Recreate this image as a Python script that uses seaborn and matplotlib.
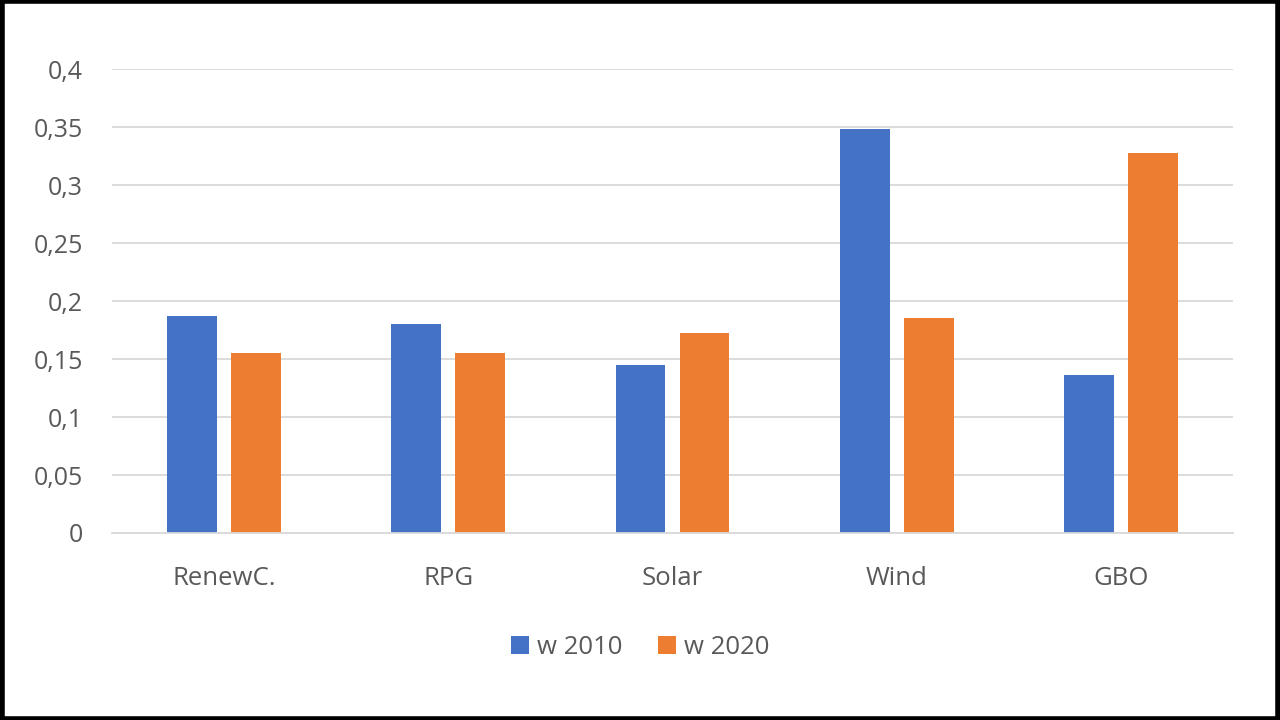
import matplotlib
matplotlib.use("Agg")
import matplotlib.pyplot as plt
import seaborn as sns
import pandas as pd
from matplotlib.patches import Rectangle

categories = ["RenewC.", "RPG", "Solar", "Wind", "GBO"]
series_names = ["w 2010", "w 2020"]
values_2010 = [0.187, 0.180, 0.145, 0.348, 0.136]
values_2020 = [0.155, 0.155, 0.172, 0.185, 0.328]
y_ticks = [0, 0.05, 0.1, 0.15, 0.2, 0.25, 0.3, 0.35, 0.4]
y_tick_labels = ["0", "0,05", "0,1", "0,15", "0,2", "0,25", "0,3", "0,35", "0,4"]
colors = ["#4472C4", "#ED7D31"]

df = pd.DataFrame({
    "category": categories * 2,
    "series": [series_names[0]] * len(categories) + [series_names[1]] * len(categories),
    "value": values_2010 + values_2020,
})

sns.set_theme(style="white")
plt.rcParams["font.family"] = ["Open Sans", "DejaVu Sans"]

fig = plt.figure(figsize=(12.8, 7.2), dpi=100)
ax = fig.add_axes([112 / 1280, 1 - 533 / 720, (1233 - 112) / 1280, (533 - 69) / 720])

sns.barplot(data=df, x="category", y="value", hue="series", palette=colors,
            width=0.571, gap=0.22, ax=ax, saturation=1, legend=True, linewidth=0)

ax.set_ylim(0, 0.4)
ax.set_xlim(-0.5, len(categories) - 0.5)
ax.set_yticks(y_ticks)
ax.set_yticklabels(y_tick_labels)
ax.set_xlabel("")
ax.set_ylabel("")
ax.yaxis.grid(True, color="#D9D9D9", linewidth=1.3)
ax.set_axisbelow(True)
for s in ["top", "right", "left"]:
    ax.spines[s].set_visible(False)
ax.spines["bottom"].set_color("#D9D9D9")
ax.spines["bottom"].set_linewidth(1.3)
ax.tick_params(axis="y", length=0, pad=21, labelsize=18, labelcolor="#595959")
ax.tick_params(axis="x", length=0, pad=23.5, labelsize=18.5, labelcolor="#595959")

handles, labels = ax.get_legend_handles_labels()
ax.legend_.remove()
fig.legend(handles, labels, loc="center", bbox_to_anchor=(0.5, 1 - 647 / 720),
           ncol=2, frameon=False, fontsize=18.5, labelcolor="#595959",
           handlelength=0.7, handleheight=0.7, handletextpad=0.3, columnspacing=1.4)

fig.patches.append(Rectangle((0.0015, 0.002), 0.997, 0.996, transform=fig.transFigure,
                             fill=False, edgecolor="black", linewidth=4, zorder=10))

fig.savefig("out.png", dpi=100, facecolor="white")
